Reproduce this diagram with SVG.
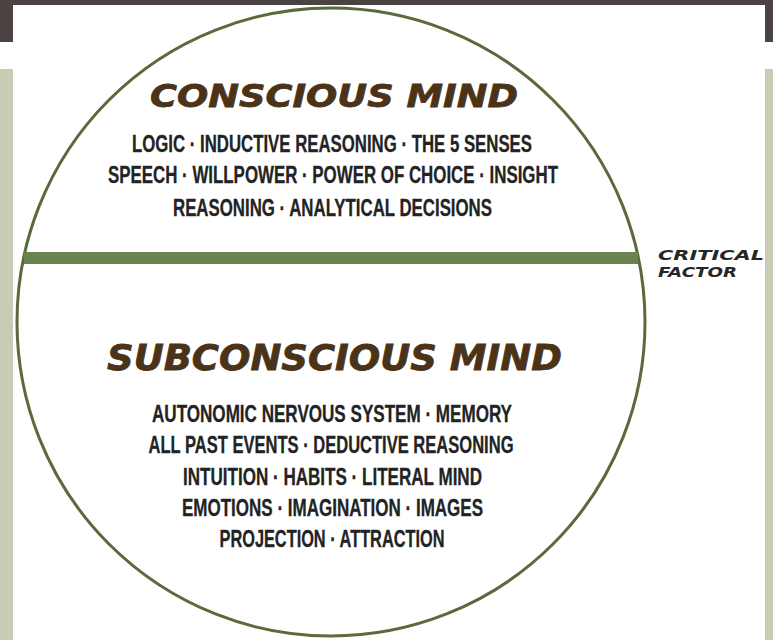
<svg xmlns="http://www.w3.org/2000/svg" width="773" height="640" viewBox="0 0 773 640">
<style>
.title{font-family:"DejaVu Sans","Liberation Sans",sans-serif;font-weight:bold;font-style:italic;fill:#4a3318;stroke:#4a3318;stroke-width:0.8;text-anchor:middle}
.item{font-family:"Liberation Sans","Arial",sans-serif;font-weight:bold;font-size:23.5px;fill:#232323;stroke:#232323;stroke-width:0.3;text-anchor:middle}
.cf{font-family:"DejaVu Sans","Liberation Sans",sans-serif;font-weight:bold;font-style:italic;font-size:14px;fill:#262626}
</style>
<rect x="0" y="0" width="773" height="640" fill="#ffffff"/>
<rect x="0" y="0" width="773" height="42" fill="#4b4341"/>
<rect x="0" y="69" width="13" height="571" fill="#c9ccb5"/>
<rect x="765" y="69" width="8" height="571" fill="#c9ccb5"/>
<rect x="13" y="5" width="752" height="635" fill="#ffffff"/>
<g id="circle">
<circle cx="331" cy="322" r="314" fill="#ffffff" stroke="#5b6a3c" stroke-width="3"/>
</g>
<g id="connectors">
<rect x="24" y="252" width="614" height="12" fill="#6a8350"/>
</g>
<g id="conscious">
<text class="title" x="334" y="107" font-size="32" textLength="368" lengthAdjust="spacingAndGlyphs">CONSCIOUS MIND</text>
<text class="item" x="332" y="152" textLength="400" lengthAdjust="spacingAndGlyphs">LOGIC · INDUCTIVE REASONING · THE 5 SENSES</text>
<text class="item" x="333" y="183" textLength="450" lengthAdjust="spacingAndGlyphs">SPEECH · WILLPOWER · POWER OF CHOICE · INSIGHT</text>
<text class="item" x="332.5" y="216" textLength="319" lengthAdjust="spacingAndGlyphs">REASONING · ANALYTICAL DECISIONS</text>
</g>
<g id="critical-factor">
<text class="cf" x="658" y="260" textLength="106" lengthAdjust="spacingAndGlyphs">CRITICAL</text>
<text class="cf" x="658" y="277" textLength="79" lengthAdjust="spacingAndGlyphs">FACTOR</text>
</g>
<g id="subconscious">
<text class="title" x="334.5" y="370" font-size="36" textLength="455" lengthAdjust="spacingAndGlyphs">SUBCONSCIOUS MIND</text>
<text class="item" x="332" y="422" textLength="360" lengthAdjust="spacingAndGlyphs">AUTONOMIC NERVOUS SYSTEM · MEMORY</text>
<text class="item" x="331" y="453" textLength="365" lengthAdjust="spacingAndGlyphs">ALL PAST EVENTS · DEDUCTIVE REASONING</text>
<text class="item" x="332.5" y="485" textLength="299" lengthAdjust="spacingAndGlyphs">INTUITION · HABITS · LITERAL MIND</text>
<text class="item" x="332.5" y="516" textLength="301" lengthAdjust="spacingAndGlyphs">EMOTIONS · IMAGINATION · IMAGES</text>
<text class="item" x="332" y="547" textLength="225" lengthAdjust="spacingAndGlyphs">PROJECTION · ATTRACTION</text>
</g>
</svg>
